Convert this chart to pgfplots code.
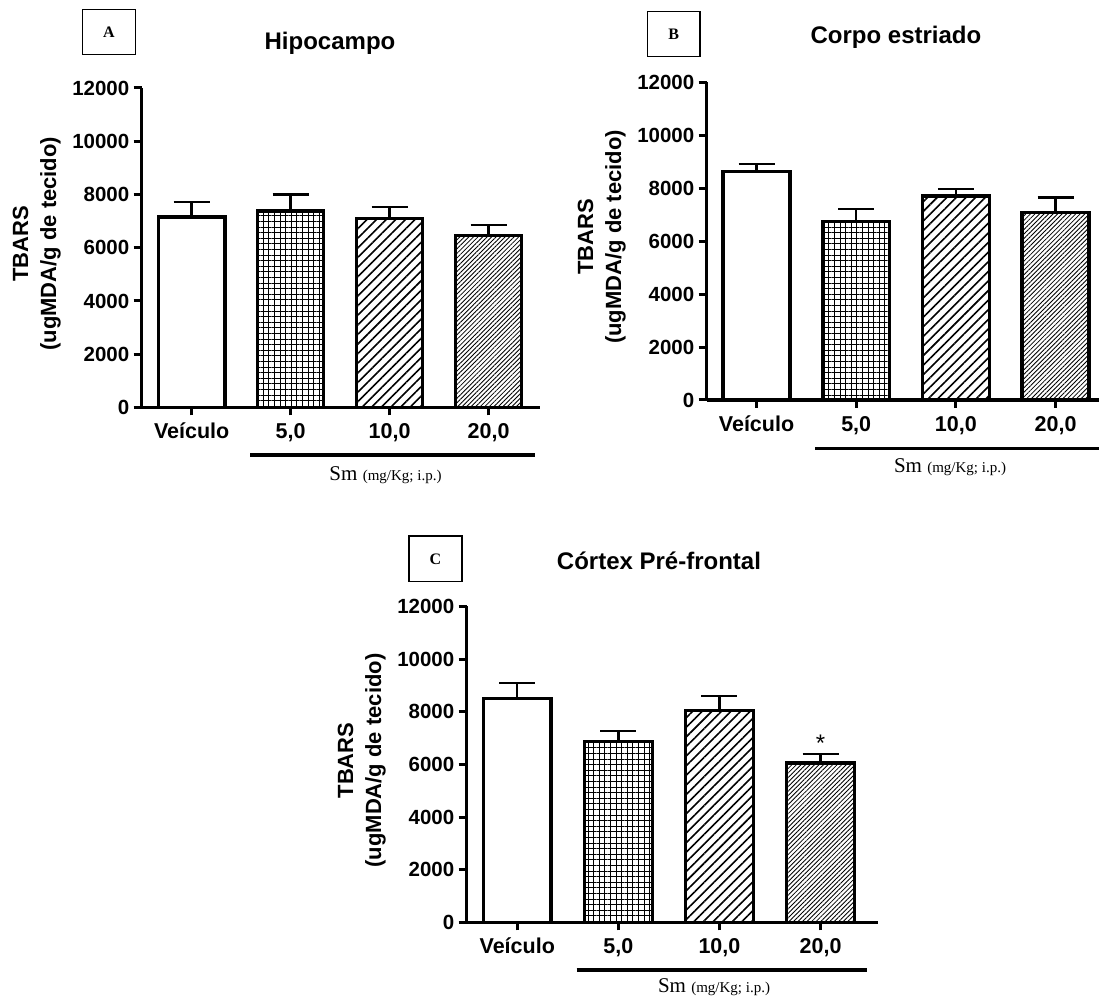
\documentclass[border=0pt]{standalone}
\usepackage{fontspec}
\setmainfont{Liberation Sans}
\newfontfamily\serif{Liberation Serif}
\usepackage{pgfplots}
\pgfplotsset{compat=1.18}
\usetikzlibrary{patterns.meta}

\newcommand\PX[2]{({(#1)*0.5pt},{(1000-(#2))*0.5pt})}

\pgfplotsset{
  panel/.style={
    scale only axis, anchor=south west,
    axis x line*=bottom, axis y line*=left,
    axis line style={line width=1.7pt, black},
    ymin=0, ymax=12000, ytick={0,2000,4000,6000,8000,10000,12000},
    xtick={0,1,2,3}, xticklabels={Veículo,{5,0},{10,0},{20,0}},
    tick align=outside, major tick length=4pt,
    every tick/.style={line width=1.5pt, black},
    scaled y ticks=false,
    /pgf/number format/1000 sep={},
    /pgf/number format/assume math mode=true,
    yticklabel style={font=\bfseries\fontsize{10.25}{12}\selectfont, inner sep=2pt},
    xticklabel style={font=\bfseries\fontsize{10.75}{12}\selectfont, text height=8pt, text depth=1pt},
    clip=false,
  },
  barbase/.style={ybar, bar width=0.67, draw=black, line width=1.7pt,
    error bars/y dir=plus, error bars/y explicit,
    error bars/error bar style={line width=1.2pt, black},
    error bars/error mark options={rotate=90, black, line width=1.2pt, mark size=9pt}},
  vei/.style={barbase, fill=white},
  g5/.style={barbase, fill=white, postaction={pattern={Hatch[angle=0,distance=2.8pt,line width=0.5pt]}}},
  g10/.style={barbase, fill=white, postaction={pattern={Lines[angle=45,distance=3.4pt,line width=0.8pt]}}},
  g20/.style={barbase, fill=white, postaction={pattern={Lines[angle=45,distance=1.6pt,line width=0.42pt]}}},
}

\begin{document}
\begin{tikzpicture}
\path[use as bounding box] (0,0) rectangle (549.5pt,500pt);

% ---------- Panel A ----------
\begin{axis}[panel, at={(70.85pt,296.25pt)}, width=199.15pt, height=159.75pt,
  xmin=-0.505, xmax=3.52]
\addplot[vei] coordinates {(0,7150) +- (0,560)};
\addplot[g5]  coordinates {(1,7380) +- (0,620)};
\addplot[g10] coordinates {(2,7090) +- (0,450)};
\addplot[g20] coordinates {(3,6460) +- (0,385)};
\end{axis}

% ---------- Panel B ----------
\begin{axis}[panel, at={(353.35pt,300pt)}, width=196.15pt, height=158.75pt,
  xmin=-0.5, xmax=3.436]
\addplot[vei] coordinates {(0,8630) +- (0,290)};
\addplot[g5]  coordinates {(1,6740) +- (0,480)};
\addplot[g10] coordinates {(2,7710) +- (0,255)};
\addplot[g20] coordinates {(3,7095) +- (0,565)};
\end{axis}

% ---------- Panel C ----------
\begin{axis}[panel, at={(233.35pt,38.75pt)}, width=205.65pt, height=158pt,
  xmin=-0.5, xmax=3.568]
\addplot[vei] coordinates {(0,8500) +- (0,600)};
\addplot[g5]  coordinates {(1,6870) +- (0,410)};
\addplot[g10] coordinates {(2,8040) +- (0,560)};
\addplot[g20] coordinates {(3,6060) +- (0,340)};
\node[font=\fontsize{12}{14}\selectfont] at (axis cs:3,6800) {*};
\end{axis}

% y labels
\foreach \xx/\yy in {36.7/243.75, 601.7/237, 361.7/760.5}{
  \node[rotate=90, align=center, font=\bfseries\fontsize{11}{14}\selectfont]
    at \PX{\xx}{\yy} {TBARS\\(ugMDA/g de tecido)};
}

% titles
\node[anchor=base, font=\bfseries\fontsize{12}{14}\selectfont] at \PX{330}{50} {Hipocampo};
\node[anchor=base, font=\bfseries\fontsize{12}{14}\selectfont] at \PX{896}{44} {Corpo estriado};
\node[anchor=base, font=\bfseries\fontsize{12}{14}\selectfont] at \PX{659}{570} {Córtex Pré-frontal};

% letter boxes
\draw[line width=0.6pt] \PX{82.7}{9.3} rectangle \PX{135.3}{54.3};
\node[font=\serif\bfseries\fontsize{8}{9}\selectfont] at \PX{109}{31.8} {A};
\draw[line width=0.6pt] \PX{647.7}{11.7} rectangle \PX{700}{56.7};
\node[font=\serif\bfseries\fontsize{8}{9}\selectfont] at \PX{673.8}{34.2} {B};
\draw[line width=0.6pt] \PX{409}{536} rectangle \PX{462}{581.7};
\node[font=\serif\bfseries\fontsize{8}{9}\selectfont] at \PX{435.5}{558.8} {C};

% underlines and dose labels
\draw[line width=1.75pt] \PX{250}{455} -- \PX{535}{455};
\draw[line width=1.75pt] \PX{815}{448.3} -- \PX{1099}{448.3};
\draw[line width=1.75pt] \PX{576.7}{970} -- \PX{866.7}{970};
\foreach \xx/\yy in {385.5/475, 950/466.7, 714/987}{
  \node[font=\serif] at \PX{\xx}{\yy} {\fontsize{10.5}{12}\selectfont Sm \fontsize{7.5}{9}\selectfont(mg/Kg; i.p.)};
}
\end{tikzpicture}
\end{document}
